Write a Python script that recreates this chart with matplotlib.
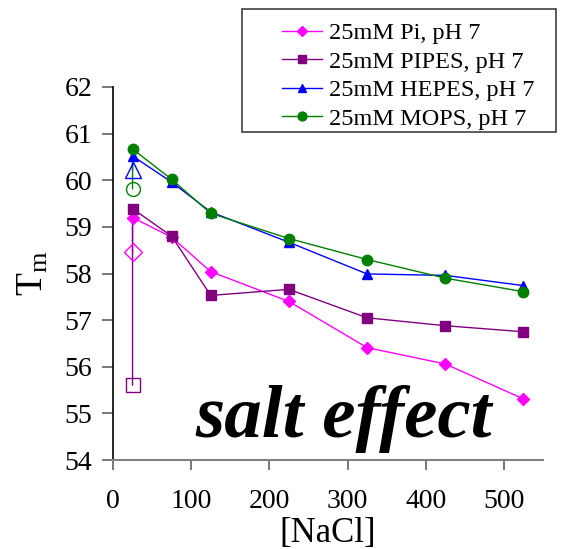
import matplotlib
matplotlib.use("Agg")
import matplotlib.pyplot as plt
from matplotlib.lines import Line2D
from matplotlib.patches import Rectangle

plt.rcParams['font.family'] = ['Liberation Serif', 'DejaVu Serif']
plt.rcParams['mathtext.fontset'] = 'custom'
plt.rcParams['mathtext.rm'] = 'Liberation Serif'
plt.rcParams['mathtext.it'] = 'Liberation Serif:italic'

nacl = [25, 25, 75, 125, 225, 325, 425, 525]
series_names = ["25mM Pi, pH 7", "25mM PIPES, pH 7", "25mM HEPES, pH 7", "25mM MOPS, pH 7"]
pi_tm = [58.46, 59.20, 58.78, 58.04, 57.40, 56.41, 56.06, 55.31]
pipes_tm = [55.61, 59.39, 58.80, 57.53, 57.66, 57.05, 56.88, 56.75]
hepes_tm = [60.21, 60.52, 59.96, 59.32, 58.67, 57.99, 57.96, 57.74]
mops_tm = [59.82, 60.67, 60.02, 59.29, 58.75, 58.30, 57.90, 57.61]
x_ticks = [0, 100, 200, 300, 400, 500]
y_ticks = [54, 55, 56, 57, 58, 59, 60, 61, 62]

colors = ["#FF00FF", "#800080", "#0000FF", "#008000"]
markers = ["D", "s", "^", "o"]
msizes = [6, 7, 7.5, 7.5]
hollow_sizes = [9, 10, 11, 10]

W, H = 562, 549
fig = plt.figure(figsize=(W / 100, H / 100), dpi=100)
ax = fig.add_axes([113 / W, 1 - 460 / H, (543 - 113) / W, (460 - 87) / H])

handles = []
for vals, c, m, ms, hs, name in zip([pi_tm, pipes_tm, hepes_tm, mops_tm], colors, markers,
                                     msizes, hollow_sizes, series_names):
    ax.plot(nacl, vals, color=c, lw=1.0, zorder=2)
    ax.plot(nacl[1:], vals[1:], ls='none', marker=m, ms=ms, color=c, mec=c, zorder=3)
    ax.plot(nacl[:1], vals[:1], ls='none', marker=m, ms=hs, mfc='none', mec=c, mew=1.0, zorder=3)
    handles.append(Line2D([], [], color=c, lw=1.0, marker=m, ms=ms * 0.85, label=name))

ax.set_xlim(0, 550)
ax.set_ylim(54, 62)
ax.set_xticks(x_ticks)
ax.set_yticks(y_ticks)
for s in ['top', 'right']:
    ax.spines[s].set_visible(False)
ax.spines['left'].set_color('black')
ax.spines['left'].set_linewidth(1.2)
ax.spines['bottom'].set_color('#808080')
ax.spines['bottom'].set_linewidth(1.5)
ax.tick_params(axis='both', direction='out', colors='#606060', labelcolor='black',
               labelsize=20, width=1.2)
ax.tick_params(axis='y', length=8, pad=7)
ax.tick_params(axis='x', length=7, pad=14)

ax.set_xlabel("[NaCl]", fontsize=25, labelpad=2)
ax.set_ylabel(r"T$_\mathrm{m}$", fontsize=27, labelpad=10)

ax.text(105, 54.49, "salt effect", fontsize=54,
        fontweight='bold', fontstyle='italic', ha='left', va='baseline',
        family=['Liberation Serif'])

# legend frame (drawn separately to reproduce the wide left margin)
fig.patches.append(Rectangle((241.7 / W, 1 - 132.3 / H), (556 - 241.7) / W, (132.3 - 9.3) / H,
                             transform=fig.transFigure, fill=False, edgecolor='#404040',
                             lw=1.2, zorder=5))
leg = fig.legend(handles=handles, loc='upper left', bbox_to_anchor=(282 / W, 1 - 22 / H),
                 fontsize=17.5, frameon=False, handlelength=1.65,
                 labelspacing=0.27, borderpad=0, handletextpad=0.29, borderaxespad=0)

fig.savefig("out.png", dpi=100)
